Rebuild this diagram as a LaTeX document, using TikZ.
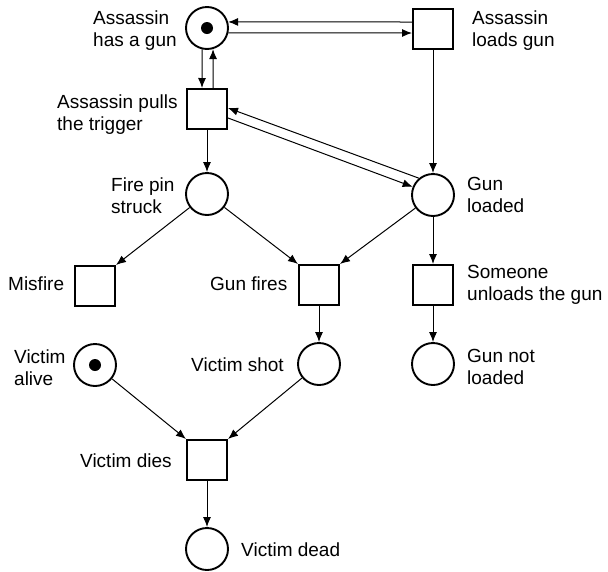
\documentclass[tikz,border=0pt]{standalone}
\usepackage{fontspec}
\newfontfamily\labfont{Liberation Sans}
\usetikzlibrary{arrows.meta}
\begin{document}
\begin{tikzpicture}[x=1pt,y=-1pt,
  place/.style={circle,draw,line width=1.9pt,minimum size=42pt,inner sep=0pt},
  trans/.style={rectangle,draw,line width=2pt,minimum size=40pt,inner sep=0pt},
  tok/.style={circle,fill,minimum size=12pt,inner sep=0pt},
  lbl/.style={anchor=base west,inner sep=0pt,font=\labfont\fontsize{19}{22}\selectfont},
  arr/.style={line width=1pt,-{Latex[length=10pt,width=8pt]}}]
\useasboundingbox[fill=white] (0,0) rectangle (608,571);

% places
\node[place] (P1) at (207,28) {};
\node[tok] (K1) at (207,28) {};
\node[place] (P2) at (207,194) {};
\node[place] (P3) at (433,195) {};
\node[place] (P4) at (95,365) {};
\node[tok] (K4) at (95,365) {};
\node[place] (P5) at (319,364) {};
\node[place] (P6) at (433,364) {};
\node[place] (P7) at (207,549) {};

% transitions
\node[trans] (T1) at (433,29) {};
\node[trans] (T2) at (207,109) {};
\node[trans] (T3) at (95,286) {};
\node[trans] (T4) at (319,285) {};
\node[trans] (T5) at (433,285) {};
\node[trans] (T6) at (207,460) {};

% labels
\node[lbl] (L1) at (93,24) {\begin{tabular}[t]{@{}l@{}}Assassin\\has a gun\end{tabular}};
\node[lbl] (L2) at (472,24) {\begin{tabular}[t]{@{}l@{}}Assassin\\loads gun\end{tabular}};
\node[lbl] (L3) at (57,108) {\begin{tabular}[t]{@{}l@{}}Assassin pulls\\the trigger\end{tabular}};
\node[lbl] (L4) at (111,191) {\begin{tabular}[t]{@{}l@{}}Fire pin\\struck\end{tabular}};
\node[lbl] (L5) at (467,190) {\begin{tabular}[t]{@{}l@{}}Gun\\loaded\end{tabular}};
\node[lbl] (L6) at (8,290) {Misfire};
\node[lbl] (L7) at (210,290) {Gun fires};
\node[lbl] (L8) at (467,278) {\begin{tabular}[t]{@{}l@{}}Someone\\unloads the gun\end{tabular}};
\node[lbl] (L9) at (14,363) {\begin{tabular}[t]{@{}l@{}}Victim\\alive\end{tabular}};
\node[lbl] (L10) at (191,371) {Victim shot};
\node[lbl] (L11) at (467,362) {\begin{tabular}[t]{@{}l@{}}Gun not\\loaded\end{tabular}};
\node[lbl] (L12) at (80,467) {Victim dies};
\node[lbl] (L13) at (241,556) {Victim dead};

% arcs
\draw[arr] ([yshift=7pt]T1.west) -- (P1.16);
\draw[arr] (P1.-13) -- ([yshift=-4pt]T1.west);
\draw[arr] (P1.257) -- ([xshift=-5pt]T2.north);
\draw[arr] ([xshift=6pt]T2.north) -- (P1.286);
\draw[arr] (T1.south) -- (P3.north);
\draw[arr] (P3.130) -- ([yshift=1pt]T2.east);
\draw[arr] ([yshift=-9pt]T2.east) -- (P3.158);
\draw[arr] (T2.south) -- (P2.north);
\draw[arr] (P2) -- (T3.north east);
\draw[arr] (P2) -- (T4.north west);
\draw[arr] (P3) -- (T4.north east);
\draw[arr] (P3.south) -- (T5.north);
\draw[arr] (T4.south) -- (P5.north);
\draw[arr] (T5.south) -- (P6.north);
\draw[arr] (P4) -- (T6.north west);
\draw[arr] (P5) -- (T6.north east);
\draw[arr] (T6.south) -- (P7.north);
\end{tikzpicture}
\end{document}
